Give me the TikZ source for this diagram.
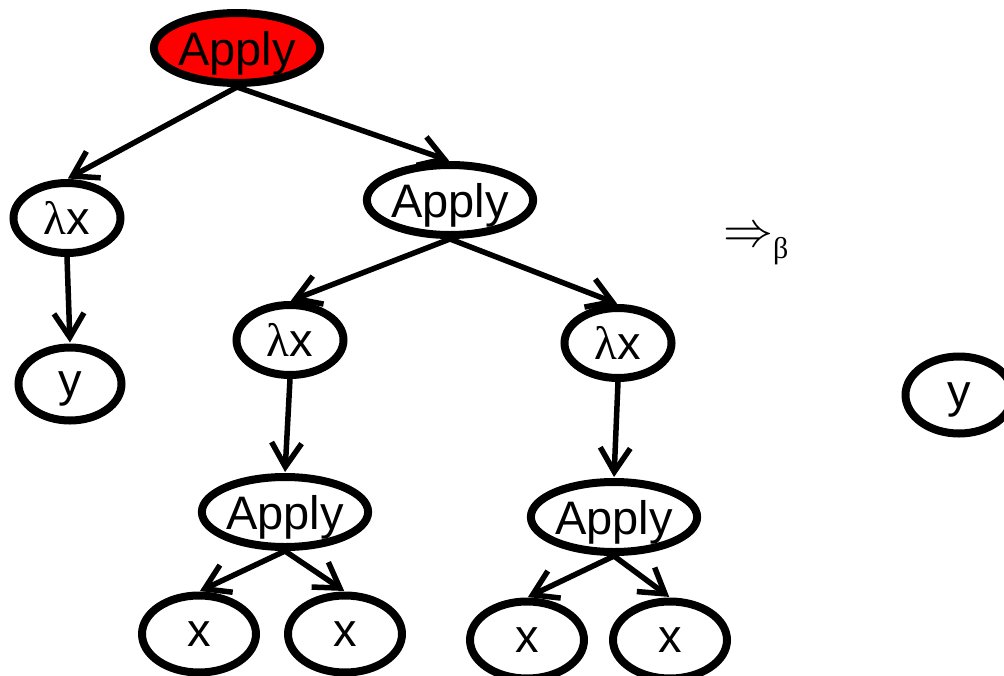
\documentclass[tikz,border=0pt]{standalone}
\usepackage{fontspec}
\setmainfont{Liberation Sans}
\newfontfamily\grk{Liberation Serif}
\usetikzlibrary{shapes.geometric,arrows.meta}
\begin{document}
\begin{tikzpicture}[x=1pt,y=-1pt,
  tnode/.style={ellipse,draw=black,line width=8pt,inner sep=0pt,text depth=0pt,font=\fontsize{47}{52}\selectfont},
  wide/.style={tnode,minimum width=151pt,minimum height=70pt},
  small/.style={tnode,minimum width=107pt,minimum height=70pt},
  leaf/.style={tnode,minimum width=114pt,minimum height=77pt},
  edge/.style={line width=5.5pt,-{Straight Barb[length=24pt,width=30pt,line width=5.5pt]},shorten >=1pt}]
\useasboundingbox (0,0) rectangle (1004,675);
\node[wide,fill=red] (r) at (237,48) {Apply};
\node[small] (l1) at (67,218) {{\grk λ}x};
\node[leaf,minimum width=103pt,minimum height=73pt] (y1) at (70,384) {y};
\node[wide] (a2) at (450,200) {Apply};
\node[small] (l2) at (290,340) {{\grk λ}x};
\node[small] (l3) at (618,343) {{\grk λ}x};
\node[wide] (a3) at (285,512) {Apply};
\node[wide] (a4) at (614,517) {Apply};
\node[leaf] (x1) at (199,634) {x};
\node[leaf] (x2) at (345,634) {x};
\node[leaf] (x3) at (527,640) {x};
\node[leaf] (x4) at (670,640) {x};
\node[leaf,minimum width=107pt] (y2) at (959,395) {y};
\node[inner sep=0pt,anchor=base west] (beta) at (723,246) {\scalebox{5}{$\Rightarrow$}\raisebox{-12pt}{\grk\fontsize{30}{34}\selectfont β}};
\draw[edge] (r.south) -- (l1.north);
\draw[edge] (r.south) -- (a2.north);
\draw[edge] (l1.south) -- (y1.north);
\draw[edge] (a2.south) -- (l2.north);
\draw[edge] (a2.south) -- (l3.north);
\draw[edge] (l2.south) -- (a3.north);
\draw[edge] (l3.south) -- (a4.north);
\draw[edge] (a3.south) -- (x1.north);
\draw[edge] (a3.south) -- (x2.north);
\draw[edge] (a4.south) -- (x3.north);
\draw[edge] (a4.south) -- (x4.north);
\end{tikzpicture}
\end{document}
